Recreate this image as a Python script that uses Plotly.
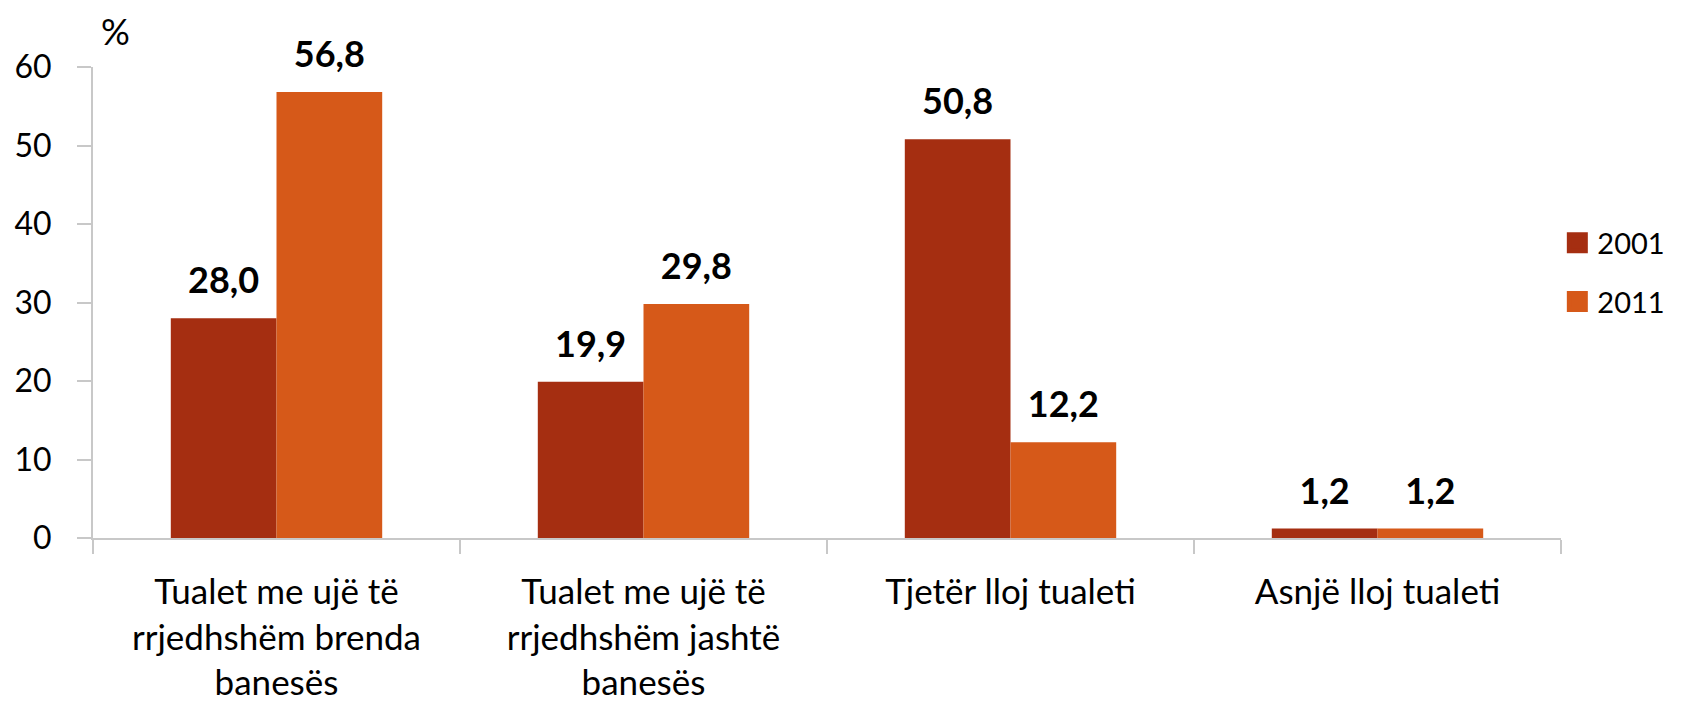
import plotly.graph_objects as go

categories = ["Tualet me ujë të<br>rrjedhshëm brenda<br>banesës",
              "Tualet me ujë të<br>rrjedhshëm jashtë<br>banesës",
              "Tjetër lloj tualeti",
              "Asnjë lloj tualeti"]
series_names = ["2001", "2011"]
values_2001 = [28.0, 19.9, 50.8, 1.2]
values_2011 = [56.8, 29.8, 12.2, 1.2]
y_ticks = [0, 10, 20, 30, 40, 50, 60]

colors = ["#A52E11", "#D65919"]
FONT = "Lato"

def fmt(v):
    return f"{v:.1f}".replace(".", ",")

fig = go.Figure()
for name, vals, col in zip(series_names, [values_2001, values_2011], colors):
    fig.add_trace(go.Bar(
        x=categories, y=vals, name=name, legendgroup=name, showlegend=False,
        offsetgroup=name, marker=dict(color=col, line=dict(width=0)),
    ))
# value labels, grouped like the bars, with an invisible marker that keeps them off the bar top
for name, vals in zip(series_names, [values_2001, values_2011]):
    fig.add_trace(go.Scatter(
        x=categories, y=vals, mode="markers+text", offsetgroup=name,
        text=[fmt(v) for v in vals], textposition="top center",
        textfont=dict(family=FONT, size=36, color="#000000", weight="bold"),
        marker=dict(size=24, opacity=0), showlegend=False, cliponaxis=False,
        hoverinfo="skip",
    ))
# legend entries with larger square swatches
for name, col in zip(series_names, colors):
    fig.add_trace(go.Scatter(
        x=[None], y=[None], mode="markers", name=name, legendgroup=name,
        offsetgroup=name,
        marker=dict(symbol="square", size=16, color=col, line=dict(width=5, color=col)),
        showlegend=True,
    ))

# page body has an 8px default margin, so the figure is 8px smaller than the window
fig.update_layout(
    width=1674, height=694,
    margin=dict(l=85, r=118, t=59, b=164),
    plot_bgcolor="white", paper_bgcolor="white",
    barmode="group", bargap=0.424, bargroupgap=0,
    scattermode="group", scattergap=0.424,
    font=dict(family=FONT, color="#000000"),
    showlegend=True,
    legend=dict(x=0.9975, y=0.564, xanchor="left", yanchor="middle",
                font=dict(size=29, family=FONT), traceorder="grouped",
                tracegroupgap=18, itemwidth=30),
    annotations=[dict(text="%", x=(116 - 93) / 1471, y=(538 - 31) / 471,
                      xref="paper", yref="paper", xanchor="center", yanchor="middle",
                      showarrow=False, font=dict(size=36, family=FONT))],
)

fig.update_yaxes(range=[0, 60], tickvals=y_ticks, ticks="outside", ticklen=14,
                 tickwidth=2, tickcolor="#C8C8C8", showline=True, linecolor="#C8C8C8",
                 linewidth=2, showgrid=False, zeroline=False, automargin=False,
                 tickfont=dict(size=32, family=FONT), ticklabelstandoff=19)
fig.update_xaxes(ticks="outside", tickson="boundaries", ticklen=14, tickwidth=2,
                 tickcolor="#C8C8C8", showline=True, linecolor="#C8C8C8", linewidth=2,
                 showgrid=False, tickfont=dict(size=35, family=FONT), tickangle=0,
                 ticklabelstandoff=22, automargin=False)

fig.write_html("out.html")
